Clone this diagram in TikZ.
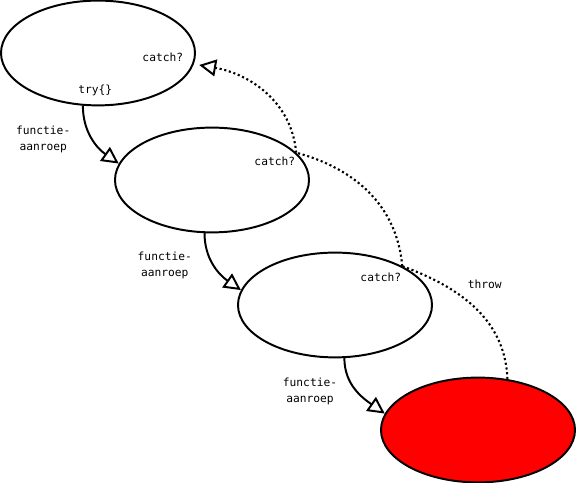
\documentclass[tikz,border=0pt]{standalone}
\usepackage{fontspec}
\newfontfamily\codefont{DejaVu Sans Mono}
\usetikzlibrary{shapes.geometric, arrows.meta, positioning}

\begin{document}
\begin{tikzpicture}[
    frame/.style={draw, ellipse, line width=1.4pt, minimum width=4.85cm,
                  minimum height=2.62cm, inner sep=0pt},
    lbl/.style={font=\codefont\fontsize{8}{11.4}\selectfont, align=center, inner sep=1pt},
    call/.style={line width=1.4pt, -{Triangle[open, length=12pt, width=12pt, line width=1.4pt]}},
    throwline/.style={line width=1.5pt, dash pattern=on 1.5pt off 1.9pt}
]
    \useasboundingbox (0,0) rectangle (14.4,12.075);

    % Frames
    \node[frame] (main) at (2.45,10.75) {};
    \node[frame] (f1) at (5.3,7.575) {};
    \node[frame] (f2) at (8.375,4.45) {};
    \node[frame, fill=red] (f3) at (11.95,1.325) {};

    % Labels
    \node[lbl] (catch0) at (4.07,10.63) {catch?};
    \node[lbl] (try) at (2.38,9.81) {try\{\}};
    \node[lbl] (catch1) at (6.87,8.03) {catch?};
    \node[lbl] (catch2) at (9.52,5.13) {catch?};
    \node[lbl] (throw) at (12.12,4.96) {throw};
    \node[lbl] (call0) at (1.08,8.6) {functie-\\aanroep};
    \node[lbl] (call1) at (4.12,5.45) {functie-\\aanroep};
    \node[lbl] (call2) at (7.75,2.3) {functie-\\aanroep};

    % Function calls
    \draw[call] (main.254) to[out=-90, in=145] (f1.170);
    \draw[call] (f1.262) to[out=-90, in=145] (f2.171);
    \draw[call] (f2.280) to[out=-90, in=145] (f3.170);

    % Throw back up
    \coordinate (back) at (4.98,10.45);
    \draw[throwline] (f3.60) to[out=92, in=-20] (f2.30);
    \draw[throwline] (f2.30) to[out=95, in=-15] (f1.18);
    \draw[throwline, -{Triangle[open, length=12pt, width=12pt, line width=1.4pt]}]
        (f1.18) to[out=95, in=-10] (back);
\end{tikzpicture}
\end{document}
